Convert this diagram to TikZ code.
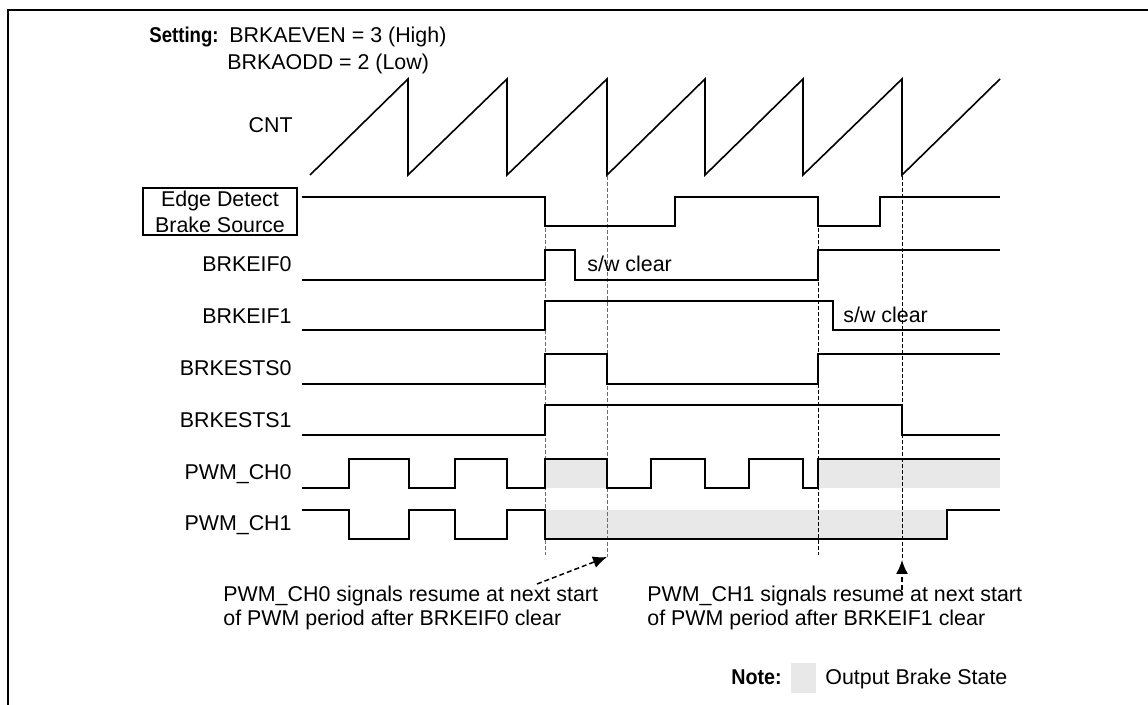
\documentclass[tikz,border=0pt]{standalone}
\usepackage{fontspec}
\setmainfont{Liberation Sans}
\usetikzlibrary{arrows.meta}
\definecolor{brakegray}{RGB}{232,232,232}
\definecolor{dashgray}{RGB}{110,110,110}
\begin{document}
\begin{tikzpicture}[x=0.5pt,y=-0.5pt,
  font=\fontsize{10.7}{13}\selectfont,
  sig/.style={line width=0.8pt, line join=miter},
  frameline/.style={line width=1pt},
  guide/.style={line width=0.5pt, dash pattern=on 2pt off 1pt},
  guidegray/.style={guide, draw=dashgray},
  brake/.style={fill=brakegray, draw=none},
  lbl/.style={inner sep=0pt, anchor=base east},
  txt/.style={inner sep=0pt, anchor=base west},
  callout/.style={line width=0.75pt, dash pattern=on 2.5pt off 1.5pt, -{Latex[length=7pt,width=6pt]}}
]
\useasboundingbox (0,0) rectangle (1148,705);
\fill[white] (0,0) rectangle (1148,705);
% frame
\draw[frameline] (8,706) -- (8,10) -- (1149,10);

% settings
\node[txt] (set0) at (149,43) {\scalebox{0.87}[1]{\textbf{Setting:}}};
\node[txt] (set1) at (229,43) {BRKAEVEN = 3 (High)};
\node[txt] (set2) at (227,70) {BRKAODD = 2 (Low)};

% labels
\node[lbl] (lcnt) at (293,133) {CNT};
\node[draw, line width=0.75pt, minimum width=77pt, minimum height=23.5pt, inner sep=0pt, align=center] (eds) at (220,211.5) {Edge Detect\\Brake Source};
\node[lbl] (lif0) at (292,272) {BRKEIF0};
\node[lbl] (lif1) at (292,324) {BRKEIF1};
\node[lbl] (lst0) at (292,376) {BRKESTS0};
\node[lbl] (lst1) at (292,428) {BRKESTS1};
\node[lbl] (lch0) at (292,480) {PWM\_CH0};
\node[lbl] (lch1) at (292,531) {PWM\_CH1};

% brake shading
\fill[brake] (545,459) rectangle (607,488);
\fill[brake] (818,459) rectangle (1000,488);
\fill[brake] (545,510) rectangle (947,539);

% guide lines
\coordinate (a0e) at (607,557);
\coordinate (a1e) at (902,560);
\draw[guidegray] (545,228) -- (545,555);
\draw[guidegray] (607,176) -- (a0e);
\draw[guide] (818,228) -- (818,555);
\draw[guide] (902,176) -- (a1e);

% CNT
\draw[sig] (310,175) -- (408,79) -- (408,175) -- (507,79) -- (507,175) -- (607,79) -- (607,175)
  -- (705,79) -- (705,175) -- (803,79) -- (803,175) -- (902,79) -- (902,175) -- (1000,79);
% Edge detect brake source
\draw[sig] (302,197) -- (545,197) -- (545,226) -- (675,226) -- (675,197) -- (818,197) -- (818,226)
  -- (880,226) -- (880,197) -- (1000,197);
% BRKEIF0
\draw[sig] (302,280) -- (545,280) -- (545,250) -- (575,250) -- (575,280) -- (818,280) -- (818,250) -- (1000,250);
% BRKEIF1
\draw[sig] (302,330) -- (545,330) -- (545,301) -- (833,301) -- (833,330) -- (1000,330);
% BRKESTS0
\draw[sig] (302,384) -- (545,384) -- (545,354) -- (607,354) -- (607,384) -- (818,384) -- (818,354) -- (1000,354);
% BRKESTS1
\draw[sig] (302,435) -- (545,435) -- (545,405) -- (902,405) -- (902,435) -- (1000,435);
% PWM_CH0
\draw[sig] (302,488) -- (349,488) -- (349,459) -- (409,459) -- (409,488) -- (455,488) -- (455,459)
  -- (507,459) -- (507,488) -- (545,488) -- (545,459) -- (607,459) -- (607,488) -- (651,488)
  -- (651,459) -- (705,459) -- (705,488) -- (749,488) -- (749,459) -- (803,459) -- (803,488)
  -- (818,488) -- (818,459) -- (1000,459);
% PWM_CH1
\draw[sig] (302,510) -- (349,510) -- (349,539) -- (409,539) -- (409,510) -- (455,510) -- (455,539)
  -- (507,539) -- (507,510) -- (545,510) -- (545,539) -- (947,539) -- (947,510) -- (1000,510);

% s/w clear
\node[txt] (clr0) at (587,272) {s/w clear};
\node[txt] (clr1) at (843,323) {s/w clear};

% resume notes
\node[txt] (r0a) at (223,602) {PWM\_CH0 signals resume at next start};
\node[txt] (r0b) at (223,626) {of PWM period after BRKEIF0 clear};
\node[txt] (r1a) at (647,602) {PWM\_CH1 signals resume at next start};
\node[txt] (r1b) at (647,626) {of PWM period after BRKEIF1 clear};
\coordinate (a0s) at (537,584);
\coordinate (a1s) at (902,590);
\draw[callout] (a0s) -- (a0e);
\draw[callout] (a1s) -- (a1e);

% legend
\node[txt] (note) at (731,685) {\scalebox{0.92}[1]{\textbf{Note:}}};
\node[brake, minimum width=12.5pt, minimum height=15pt, inner sep=0pt] (legbox) at (803.5,678) {};
\node[txt] (legtxt) at (825,685) {Output Brake State};
\end{tikzpicture}
\end{document}
